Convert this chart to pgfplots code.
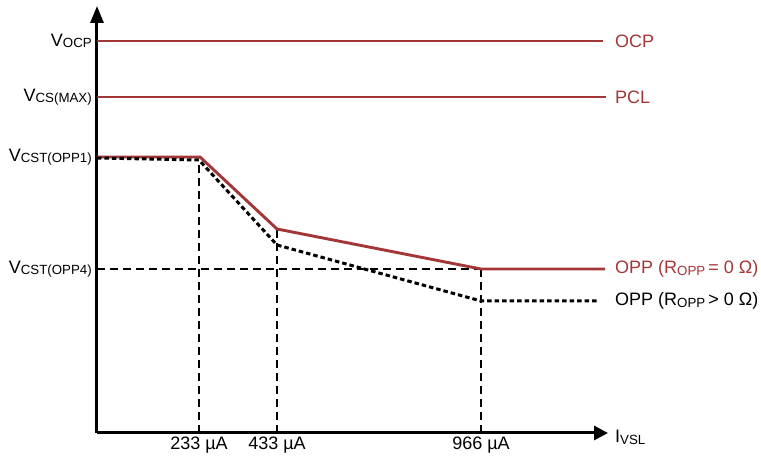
\documentclass[border=0pt]{standalone}
\usepackage{fontspec}
\setmainfont{Liberation Sans}
\usepackage{pgfplots}
\pgfplotsset{compat=1.18}
\usetikzlibrary{arrows.meta}
\definecolor{oppred}{RGB}{163,55,55}
\newcommand{\sub}[1]{\raisebox{-1.5pt}{\fontsize{13.3}{13.3}\selectfont #1}}
\begin{document}
\begin{tikzpicture}[font=\fontsize{18}{20}\selectfont]
\begin{axis}[
  anchor=origin, at={(0pt,0pt)},
  scale only axis, width=511pt, height=427pt,
  xmin=0, xmax=511, ymin=0, ymax=427,
  axis lines=left,
  axis line style={line width=3pt},
  x axis line style={-{Triangle[length=14pt,width=14pt]}},
  y axis line style={-{Triangle[length=17pt,width=13pt]}},
  major tick length=0pt,
  xtick={102,180,384}, xticklabels={233 µA,433 µA,966 µA},
  ytick={164,276,336,392},
  yticklabels={V\sub{CST(OPP4)},V\sub{CST(OPP1)},V\sub{CS(MAX)},V\sub{OCP}},
  tick label style={font=\fontsize{18}{20}\selectfont, text=black},
  yticklabel style={inner sep=5pt},
  clip=false,
]
% guide lines
\addplot[black, line width=1.4pt, dash pattern=on 8pt off 5pt] coordinates {(0,164) (384,164)};
\addplot[black, line width=1.4pt, dash pattern=on 8pt off 5pt] coordinates {(102,0) (102,271)};
\addplot[black, line width=1.4pt, dash pattern=on 8pt off 5pt] coordinates {(180,0) (180,204)};
\addplot[black, line width=1.4pt, dash pattern=on 8pt off 5pt] coordinates {(384,0) (384,164)};
% limits
\addplot[oppred, line width=2.9pt] coordinates {(0,392) (506,392)};
\addplot[oppred, line width=2.9pt] coordinates {(0,336) (509,336)};
% OPP curves
\addplot[oppred, line width=2.9pt] coordinates {(0,276) (103,276) (180,204) (384,164) (508,164)};
\addplot[black, line width=3pt, dash pattern=on 4.5pt off 3pt] coordinates {(0,275) (102,273) (180,188) (384,132) (500,132)};
% labels
\node[anchor=west, inner sep=0pt, text=oppred] at (axis cs:518,392) {OCP};
\node[anchor=west, inner sep=0pt, text=oppred] at (axis cs:518,336) {PCL};
\node[anchor=west, inner sep=0pt, text=oppred] at (axis cs:518,164) {OPP (R\sub{OPP}\,= 0 Ω)};
\node[anchor=west, inner sep=0pt, text=black] at (axis cs:518,132) {OPP (R\sub{OPP}\,> 0 Ω)};
\node[anchor=base west, inner sep=0pt, text=black] at (axis cs:518,-10) {I\sub{VSL}};
\end{axis}
\pgfresetboundingbox
\path[use as bounding box] (-97pt,-27pt) rectangle (664pt,433pt);
\end{tikzpicture}
\end{document}
